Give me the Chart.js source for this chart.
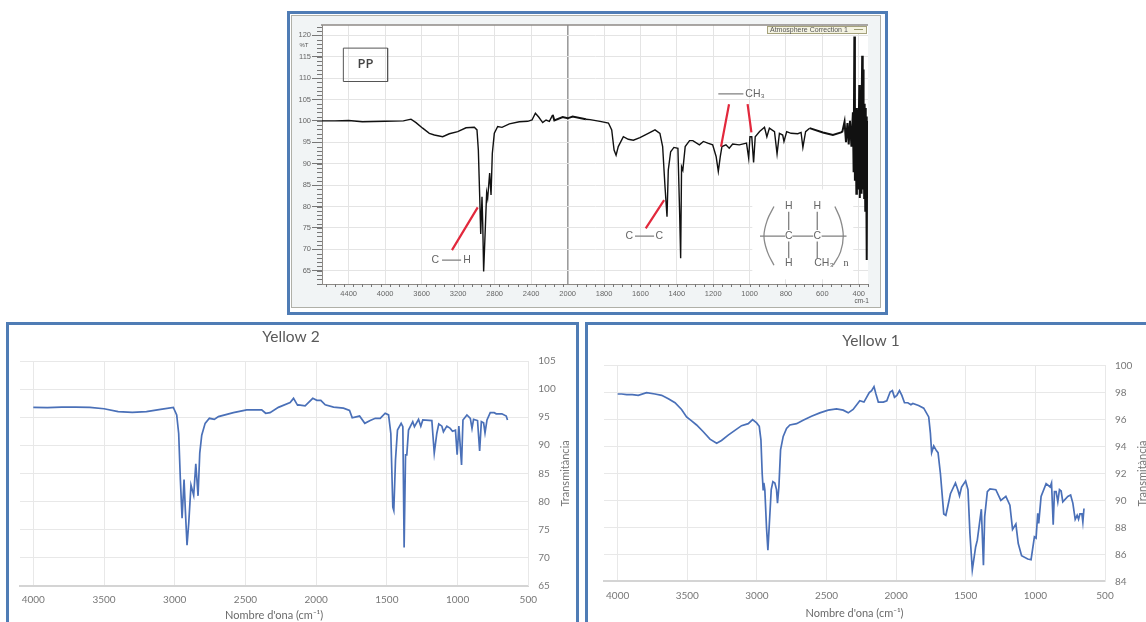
<!DOCTYPE html>
<html>
<head>
<meta charset="utf-8">
<title>PP / Yellow 2 / Yellow 1</title>
<script src="https://cdn.jsdelivr.net/npm/chart.js@4/dist/chart.umd.js"></script>
<style>
    html, body { margin: 0; padding: 0; background: #fff; overflow: hidden; width: 1146px; height: 622px; }
    .panel { position: absolute; box-sizing: border-box; border: 3px solid #4f7cb5; background: #fff; }
    .frame { position: absolute; box-sizing: border-box; border: 1.5px solid #b0b0a8; background: #f1f4f5; }
    canvas { position: absolute; filter: blur(0.5px); }
    #legendBox { position: absolute; left: 767px; top: 26px; width: 100px; height: 8px; box-sizing: border-box; border: 1px solid #a5a27c; background: #f4f3e2;
        font: 7px/6px "Liberation Sans", sans-serif; color: #555; padding-left: 2px; white-space: nowrap; filter: blur(0.3px); }
    #legendBox i { position: absolute; right: 3px; top: 2px; width: 9px; height: 1px; background: #9a9a70; }
</style>
</head>
<body>
<div class="panel" style="left:287px;top:11px;width:601px;height:304px"></div>
<div class="frame" style="left:291px;top:15px;width:590px;height:293px"></div>
<div class="panel" style="left:6px;top:322px;width:573px;height:320px"></div>
<div class="panel" style="left:585px;top:322px;width:600px;height:320px"></div>
<canvas id="PPChart" width="587" height="290" style="left:292px;top:16px"></canvas>
<canvas id="Yellow2Chart" width="569" height="297" style="left:8px;top:325px"></canvas>
<canvas id="Yellow1Chart" width="558" height="297" style="left:588px;top:325px"></canvas>
<div id="legendBox">Atmosphere Correction 1<i></i></div>
<script>
// Wavenumbers and %T
const ppWave = [
    4692, 4550, 4400, 4250, 4000, 3800, 3717, 3662, 3589, 3516,
    3461, 3370, 3297, 3205, 3114, 3023, 2994, 2979, 2964, 2953,
    2939, 2931, 2921, 2902, 2888, 2877, 2855, 2840, 2826, 2804,
    2767, 2720, 2639, 2530, 2438, 2391, 2354, 2318, 2274, 2237,
    2201, 2164, 2146, 2055, 2000, 1973, 1900, 1877, 1822, 1776,
    1758, 1745, 1734, 1722, 1694, 1667, 1639, 1603, 1557, 1520,
    1493, 1478, 1465, 1454, 1447, 1434, 1416, 1394, 1385, 1379,
    1374, 1367, 1354, 1330, 1312, 1276, 1254, 1230, 1203, 1184,
    1172, 1161, 1152, 1130, 1112, 1093, 1057, 1017, 1005, 998,
    988, 978, 969, 945, 918, 905, 891, 863, 849, 836,
    818, 811, 796, 772, 735, 717, 707, 692, 670, 597,
    542, 497, 490, 478, 470, 462, 455, 448, 440, 432,
    428, 424, 421, 419, 417, 415, 413, 410, 408, 406,
    404, 402, 397, 394, 392, 390, 387, 385, 384, 381,
    378, 376, 375, 373, 372, 370, 369, 367, 366, 364,
    363, 361, 360, 358, 357, 355, 353
];
const ppTrans = [
    100, 100, 100.1, 99.8, 99.9, 100, 100.4, 99.6, 98.3, 97.1,
    96.7, 96.3, 97, 97.5, 98.4, 98.5, 97.9, 93.2, 82.3, 73.6,
    82.3, 76.1, 64.8, 75.3, 83.2, 81.9, 87.8, 82.7, 92.4, 97.1,
    98.7, 98.5, 99.3, 99.8, 99.9, 100.2, 101.8, 100.9, 99.6, 100.2,
    99.9, 101.4, 100.1, 100.9, 100.6, 101, 100.4, 100.3, 99.9, 99.5,
    97.9, 93.2, 92, 94, 96.3, 95.7, 95.5, 96.1, 97.1, 97.9,
    97.1, 94, 84.6, 77.6, 88.5, 92.8, 93.8, 93.6, 79.2, 67.9,
    89.3, 88.5, 94, 95.4, 95.4, 94.4, 95.2, 94.8, 94.4, 91.7,
    88.2, 91.7, 94, 94.4, 93.6, 94.6, 94.4, 94.8, 91.3, 96.3,
    96.3, 90.3, 96.3, 97.5, 98.5, 96.3, 98.3, 97.5, 92.3, 97.1,
    96.7, 95.2, 97.5, 97.1, 97, 97.3, 93.8, 97.5, 98.3, 97.3,
    96.7, 97.3, 97.5, 99.8, 95, 99.5, 94.5, 100, 94, 102,
    88, 119.7, 86, 101, 91, 99, 83, 103, 86, 100,
    84, 92, 108.4, 82, 100, 89, 104, 83, 100, 115.2,
    84, 100, 112, 86, 100, 82, 104, 87, 100, 79,
    103, 85, 100, 83, 101, 67.5, 100
];
const ppXTicks = [4400, 4000, 3600, 3200, 2800, 2400, 2000, 1800, 1600, 1400, 1200, 1000, 800, 600, 400];
const ppYTicks = [65, 70, 75, 80, 85, 90, 95, 100, 105, 110, 115, 120];

// Callout lines and the PP repeat unit, in the same wavenumber / %T units
const redWave = [3268, 2986, null, 1571, 1470, null, 1113, 1157, null, 1011, 990];
const redTrans = [69.8, 79.8, null, 74.9, 81.5, null, 103.9, 94, null, 103.9, 97.3];
const bondWave = [3377, 3168, null, 1630, 1525, null, 1172, 1034, null, 943, 805, null, 765, 650, null, 604, 467, null, 785, 785, null, 785, 785, null, 628, 628, null, 628, 628];
const bondTrans = [67.5, 67.5, null, 73.1, 73.1, null, 106.3, 106.3, null, 73.1, 73.1, null, 73.1, 73.1, null, 73.1, 73.1, null, 78.8, 74.5, null, 71.8, 67.9, null, 78.8, 74.5, null, 71.8, 67.9];
const bracketLeftWave = [866, 902, 921, 902, 866];
const bracketRightWave = [531, 500, 485, 500, 540];
const bracketTrans = [80, 76.9, 73.1, 69.4, 66.3];
const boxWave = [4458, 3973, 3973, 4458, 4458];
const boxTrans = [117, 117, 109.2, 109.2, 117];
const patchWave = [985, 430, 430, 985, 985];
const patchTrans = [84, 84, 63, 63, 84];

const y2Wave = [
    4000, 3900, 3800, 3700, 3600, 3500, 3400, 3300, 3200, 3100,
    3010, 2986, 2972, 2960, 2948, 2934, 2925, 2913, 2901, 2885,
    2866, 2851, 2835, 2823, 2809, 2785, 2755, 2720, 2691, 2585,
    2491, 2385, 2357, 2326, 2267, 2184, 2160, 2132, 2125, 2078,
    2024, 1995, 1967, 1936, 1877, 1807, 1764, 1745, 1693, 1656,
    1618, 1582, 1547, 1512, 1488, 1472, 1458, 1451, 1439, 1425,
    1399, 1387, 1378, 1368, 1359, 1347, 1317, 1305, 1276, 1260,
    1246, 1182, 1165, 1147, 1133, 1111, 1100, 1076, 1052, 1036,
    1015, 1003, 991, 972, 962, 934, 910, 898, 887, 859,
    844, 832, 816, 806, 792, 769, 741, 727, 687, 656,
    647
];
const y2Trans = [
    96.75, 96.7, 96.8, 96.8, 96.75, 96.5, 96, 95.85, 96, 96.4,
    96.75, 95.4, 92.1, 83.8, 77, 83.9, 78.5, 72.2, 76.1, 82.9,
    81.1, 86.7, 81, 88.6, 91.8, 93.9, 94.8, 94.6, 95.1, 95.8,
    96.3, 96.3, 95.7, 95.8, 96.75, 97.6, 98.35, 97.15, 97.2, 97,
    98.35, 98, 98, 97.2, 96.8, 96.6, 96.2, 94.9, 95.2, 93.9,
    94.4, 94.8, 94.8, 95.7, 95.4, 92.1, 79, 78.4, 87.4, 92.7,
    93.9, 93.3, 71.8, 88.3, 88.3, 92.7, 94.2, 93.3, 94.6, 93.4,
    94.5, 94.4, 88.6, 92.1, 93.8, 93.4, 92.4, 93.4, 93, 92.5,
    92.7, 88.3, 93.4, 86.5, 94.5, 95.4, 94.8, 93, 94.6, 94.4,
    89, 94.2, 94, 92.2, 94.5, 95.8, 95.8, 95.6, 95.6, 95.2,
    94.5
];
const y2YTicks = [65, 70, 75, 80, 85, 90, 95, 100, 105];

const y1Wave = [
    4000, 3971, 3935, 3895, 3852, 3792, 3732, 3684, 3636, 3588,
    3541, 3505, 3469, 3433, 3385, 3337, 3289, 3254, 3206, 3158,
    3110, 3062, 3031, 3002, 2983, 2971, 2962, 2955, 2950, 2943,
    2931, 2921, 2912, 2897, 2885, 2871, 2859, 2852, 2842, 2830,
    2811, 2787, 2763, 2715, 2668, 2608, 2548, 2488, 2428, 2380,
    2344, 2309, 2261, 2231, 2193, 2176, 2159, 2145, 2128, 2092,
    2067, 2043, 2027, 2012, 1995, 1976, 1959, 1940, 1916, 1894,
    1880, 1839, 1802, 1766, 1754, 1745, 1730, 1711, 1699, 1682,
    1658, 1643, 1629, 1610, 1574, 1557, 1545, 1530, 1501, 1484,
    1470, 1453, 1429, 1417, 1388, 1373, 1364, 1345, 1326, 1284,
    1248, 1212, 1183, 1164, 1140, 1123, 1099, 1055, 1031, 1007,
    995, 983, 976, 959, 923, 894, 884, 872, 863, 851,
    839, 827, 815, 803, 767, 747, 731, 714, 700, 690,
    680, 666, 659, 651
];
const y1Trans = [
    97.9, 97.9, 97.85, 97.85, 97.8, 98, 97.9, 97.8, 97.55, 97.25,
    96.75, 96.2, 95.9, 95.6, 95.1, 94.55, 94.25, 94.45, 94.85, 95.2,
    95.55, 95.7, 96, 95.75, 95.5, 94.5, 92, 90.8, 91.3, 90.8,
    88, 86.3, 88, 90.8, 91.4, 91.3, 90.8, 89.8, 91, 93.75,
    94.75, 95.35, 95.6, 95.7, 95.95, 96.25, 96.5, 96.7, 96.8, 96.7,
    96.5, 96.75, 97.4, 97.3, 98, 98.15, 98.45, 97.9, 97.3, 97.3,
    97.4, 98.05, 98.15, 97.65, 97.8, 98.15, 97.8, 97.25, 97.25, 97.1,
    97.2, 97.05, 96.85, 96.2, 95, 93.55, 94.05, 93.7, 93.55, 92,
    89, 88.9, 89.55, 90.5, 91.3, 90.8, 90.35, 91, 91.45, 90.8,
    87.55, 84.85, 86.55, 87.05, 89.35, 85.2, 88.8, 90.65, 90.85, 90.8,
    90, 90.3, 89.65, 87.85, 88.25, 86.8, 85.9, 85.65, 85.6, 87.3,
    87.2, 89.05, 88.3, 90.3, 91.25, 91, 91.3, 88.2, 90.65, 90.65,
    89.9, 90.8, 90.7, 89.9, 90.3, 90.4, 89.8, 88.6, 88.9, 88.6,
    89, 89, 88.4, 89.4
];
const y1YTicks = [84, 86, 88, 90, 92, 94, 96, 98, 100];

const wavenumberTicks = [4000, 3500, 3000, 2500, 2000, 1500, 1000, 500];

function points(xs, ys) {
    return xs.map((x, i) => ({ x: x, y: ys[i] }));
}

// FTIR axis: the scale doubles at 2000 cm-1
class FoldedScale extends Chart.LinearScale {
    getPixelForValue(value) {
        if (value === null) return NaN;
        const fold = this.options.foldAt, split = this.options.foldFraction;
        const d = value >= fold
            ? (this.max - value) / (this.max - fold) * split
            : split + (fold - value) / (fold - this.min) * (1 - split);
        return this.left + d * this.width;
    }
}
FoldedScale.id = 'folded';
FoldedScale.defaults = Chart.LinearScale.defaults;
Chart.register(FoldedScale);

const plotBackground = {
    id: 'plotBackground',
    beforeDraw(chart) {
        const a = chart.chartArea;
        chart.ctx.fillStyle = '#fff';
        chart.ctx.fillRect(a.left, a.top, a.right - a.left, a.bottom - a.top);
    }
};

const titleNudge = {
    id: 'titleNudge',
    afterLayout(chart, args, opts) {
        if (chart.titleBlock && opts.dx) {
            chart.titleBlock.left += opts.dx;
            chart.titleBlock.right += opts.dx;
        }
    }
};

// Text placed in data units, optionally shifted by a few pixels
const notes = {
    id: 'notes',
    afterDatasetsDraw(chart, args, opts) {
        const ctx = chart.ctx;
        (opts.items || []).forEach(n => {
            ctx.save();
            ctx.translate(chart.scales.x.getPixelForValue(n.w) + (n.dx || 0), chart.scales.y.getPixelForValue(n.t));
            if (n.rot) ctx.rotate(n.rot);
            ctx.font = n.font;
            ctx.fillStyle = n.color;
            ctx.textAlign = 'center';
            ctx.textBaseline = 'middle';
            ctx.fillText(n.text, 0, 0);
            ctx.restore();
        });
    }
};

// Minor ticks of the PP axes and its top rule
const ppTicks = {
    id: 'ppTicks',
    afterDraw(chart) {
        const ctx = chart.ctx, a = chart.chartArea, xs = chart.scales.x, ys = chart.scales.y;
        ctx.save();
        ctx.strokeStyle = '#8e8a86';
        ctx.lineWidth = 1.5;
        ctx.beginPath();
        ctx.moveTo(a.left - 1, a.top);
        ctx.lineTo(a.right, a.top);
        ctx.stroke();
        ctx.strokeStyle = '#777';
        ctx.lineWidth = 1;
        ctx.beginPath();
        for (let t = 62; t <= 122; t++) {
            ctx.moveTo(a.left - 5, Math.round(ys.getPixelForValue(t)) + 0.5);
            ctx.lineTo(a.left, Math.round(ys.getPixelForValue(t)) + 0.5);
        }
        for (let w = 4650; w > 2000; w -= 100) {
            const x = Math.round(xs.getPixelForValue(w)) + 0.5;
            ctx.moveTo(x, a.bottom);
            ctx.lineTo(x, a.bottom + 3);
        }
        for (let w = 1950; w >= 350; w -= 50) {
            const x = Math.round(xs.getPixelForValue(w)) + 0.5;
            ctx.moveTo(x, a.bottom);
            ctx.lineTo(x, a.bottom + 3);
        }
        ctx.stroke();
        ctx.restore();
    }
};

const sketchFont = '10.5px "Liberation Sans", "DejaVu Sans", sans-serif';
const excelFont = '11px Lato, sans-serif';

const pp = document.getElementById('PPChart').getContext('2d');
const PPChart = new Chart(pp, {
    type: 'line',
    data: {
        datasets: [
            { data: points(redWave, redTrans), borderColor: '#e2283c', borderWidth: 2.2, pointRadius: 0 },
            { data: points(boxWave, boxTrans), borderColor: '#555', borderWidth: 1, pointRadius: 0 },
            {
                data: points(ppWave, ppTrans), borderColor: '#111', borderWidth: 1.4, pointRadius: 0, tension: 0,
                segment: { borderWidth: c => c.p0.parsed.x < 680 || (c.p0.parsed.x < 2170 && c.p0.parsed.x > 1950) ? 2 : 1.4 }
            },
            { data: points(bondWave, bondTrans), borderColor: '#808080', borderWidth: 1.3, pointRadius: 0 },
            { data: points(bracketLeftWave, bracketTrans), borderColor: '#8a8a8a', borderWidth: 1.3, pointRadius: 0, tension: 0.4 },
            { data: points(bracketRightWave, bracketTrans), borderColor: '#8a8a8a', borderWidth: 1.3, pointRadius: 0, tension: 0.4 },
            { data: points(patchWave, patchTrans), borderWidth: 0, backgroundColor: '#fff', fill: 'shape', pointRadius: 0 }
        ]
    },
    options: {
        responsive: false,
        animation: false,
        layout: { padding: { top: 9, right: 11 } },
        plugins: {
            legend: { display: false },
            tooltip: { enabled: false },
            notes: {
                items: [
                    { text: 'PP', w: 4215, t: 113.2, font: '600 13px "Open Sans", sans-serif', color: '#444' },
                    { text: 'C', w: 3450, t: 67.5, font: sketchFont, color: '#666' },
                    { text: 'H', w: 3103, t: 67.5, font: sketchFont, color: '#666' },
                    { text: 'C', w: 1661, t: 73.1, font: sketchFont, color: '#666' },
                    { text: 'C', w: 1496, t: 73.1, font: sketchFont, color: '#666' },
                    { text: 'CH₃', w: 970, t: 106.2, font: sketchFont, color: '#666' },
                    { text: 'H', w: 785, t: 80, font: sketchFont, color: '#666' },
                    { text: 'H', w: 628, t: 80, font: sketchFont, color: '#666' },
                    { text: 'C', w: 785, t: 73.1, font: sketchFont, color: '#666' },
                    { text: 'C', w: 628, t: 73.1, font: sketchFont, color: '#666' },
                    { text: 'H', w: 785, t: 66.7, font: sketchFont, color: '#666' },
                    { text: 'CH₃', w: 591, t: 66.7, font: sketchFont, color: '#666' },
                    { text: 'n', w: 470, t: 66.7, font: '10px "Liberation Serif", serif', color: '#555' },
                    { text: '%T', w: 4692, dx: -18, t: 117.6, font: '6px "Liberation Sans", sans-serif', color: '#555' },
                    { text: 'cm-1', w: 384, t: 57.9, font: '6.5px "Liberation Sans", sans-serif', color: '#555' }
                ]
            }
        },
        scales: {
            x: {
                type: 'folded',
                foldAt: 2000,
                foldFraction: 0.45,
                min: 349,
                max: 4692,
                afterBuildTicks: s => { s.ticks = ppXTicks.map(v => ({ value: v })); },
                afterFit: s => { s.height = 22; },
                ticks: { autoSkip: false, maxRotation: 0, padding: 5, font: { family: 'Liberation Sans', size: 7.5 }, color: '#666', callback: v => String(v) },
                grid: {
                    drawTicks: false,
                    color: c => c.tick && c.tick.value === 2000 ? '#9c9c9c' : '#e4e4e4',
                    lineWidth: c => c.tick && c.tick.value === 2000 ? 1.6 : 1
                },
                border: { color: '#8e8a86' }
            },
            y: {
                min: 61.9,
                max: 122.4,
                afterBuildTicks: s => { s.ticks = ppYTicks.map(v => ({ value: v })); },
                afterFit: s => { s.width = 30; },
                ticks: { autoSkip: false, padding: 1, font: { family: 'Liberation Sans', size: 7.5 }, color: '#666' },
                grid: { color: '#e4e4e4', tickLength: 10, tickColor: '#777' },
                border: { color: '#8e8a86' }
            }
        }
    },
    plugins: [plotBackground, notes, ppTicks]
});

function spectrumChart(id, title, waves, values, yMin, yMax, yTicks, xMax, sizes) {
    return new Chart(document.getElementById(id).getContext('2d'), {
        type: 'line',
        data: {
            datasets: [{ data: points(waves, values), borderColor: '#4a70b8', borderWidth: 1.7, pointRadius: 0, tension: 0 }]
        },
        options: {
            responsive: false,
            animation: false,
            layout: { padding: { left: sizes.left } },
            plugins: {
                legend: { display: false },
                tooltip: { enabled: false },
                title: {
                    display: true,
                    text: title,
                    color: '#595959',
                    font: { family: 'Lato', size: 15.5, weight: 'normal' },
                    padding: { top: sizes.titleTop, bottom: sizes.titleBottom }
                },
                titleNudge: { dx: sizes.titleDx },
                notes: {
                    items: [{ text: 'Transmitància', w: 500, dx: 37, t: (yMin + yMax) / 2, rot: -Math.PI / 2, font: excelFont, color: '#777' }]
                }
            },
            scales: {
                x: {
                    type: 'linear',
                    reverse: true,
                    min: 500,
                    max: xMax,
                    afterBuildTicks: s => { s.ticks = wavenumberTicks.map(v => ({ value: v })); },
                    afterFit: s => { s.height = sizes.bottom; },
                    ticks: { autoSkip: false, maxRotation: 0, padding: 8, font: { family: 'Lato', size: 10 }, color: '#777', callback: v => String(v) },
                    grid: { drawTicks: false, color: '#e8e8e8' },
                    border: { color: '#d4d4d4', width: 2 },
                    title: { display: true, text: "Nombre d'ona (cm⁻¹)", color: '#6a6a6a', font: { family: 'Lato', size: 11 }, padding: { top: 0, bottom: sizes.xTitle } }
                },
                y: {
                    position: 'right',
                    min: yMin,
                    max: yMax,
                    afterBuildTicks: s => { s.ticks = yTicks.map(v => ({ value: v })); },
                    afterFit: s => { s.width = sizes.right; },
                    ticks: { autoSkip: false, padding: 10, font: { family: 'Lato', size: 10 }, color: '#777' },
                    grid: { drawTicks: false, color: '#e8e8e8' },
                    border: { color: '#e8e8e8' }
                }
            }
        },
        plugins: [titleNudge, notes]
    });
}

const Yellow2Chart = spectrumChart('Yellow2Chart', 'Yellow 2', y2Wave, y2Trans, 65, 105, y2YTicks, 4094,
    { left: 12, right: 48.7, bottom: 36.3, titleTop: 2.5, titleBottom: 14.9, titleDx: -7.5, xTitle: 0 });
const Yellow1Chart = spectrumChart('Yellow1Chart', 'Yellow 1', y1Wave, y1Trans, 84, 100, y1YTicks, 4098,
    { left: 16, right: 1146 - 1105, bottom: 40.7, titleTop: 6.5, titleBottom: 15.6, titleDx: -4, xTitle: 2.4 });
</script>
</body>
</html>
